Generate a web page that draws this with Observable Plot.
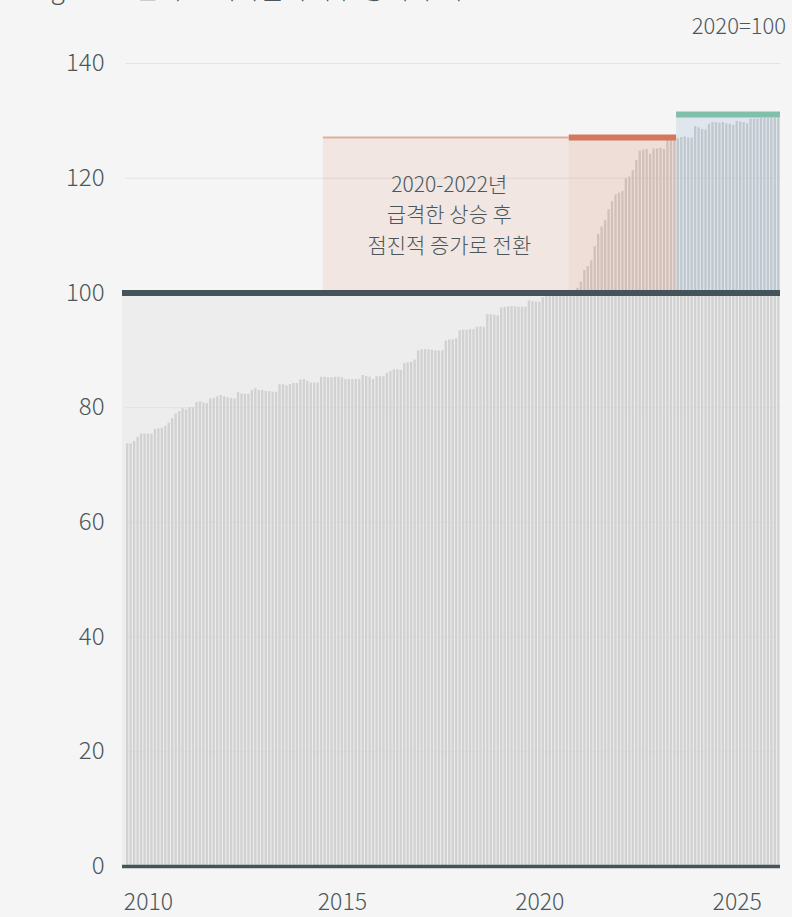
<!DOCTYPE html>
<html>
<head>
<meta charset="utf-8">
<script src="https://cdn.jsdelivr.net/npm/d3@7"></script>
<script src="https://cdn.jsdelivr.net/npm/@observablehq/plot@0.6"></script>
<style>
  html, body { margin: 0; padding: 0; background: #f5f5f5; }
  body { width: 792px; height: 917px; overflow: hidden; font-family: "Noto Sans CJK KR", "Noto Sans", sans-serif; color: #4b575b; }
  #header { position: relative; height: 44px; }
  #title { position: absolute; left: 30px; top: -25px; font-size: 26px; line-height: 26px; white-space: nowrap; font-weight: 300; }
  #unit { position: absolute; right: 6px; top: 11px; font-size: 22px; line-height: 26px; font-weight: 300; }
</style>
</head>
<body>
<div id="header">
  <div id="title">Figure 1. 한국 소비자물가지수 장기 추이</div>
  <div id="unit">2020=100</div>
</div>
<div id="chart"></div>
<script>
// Monthly index values, 2010-01 .. 2025-09 (2020=100)
const startMonth = "2010-01";
const values = [
  73.7, 73.7, 74.1, 74.8, 75.4, 75.4, 75.4, 75.4, 76.2, 76.3, 76.4, 76.7,
  77.3, 78.1, 78.9, 79.3, 79.8, 79.6, 80.0, 80.0, 80.9, 81.0, 80.8, 80.7,
  81.5, 81.6, 81.9, 82.1, 81.9, 81.7, 81.6, 81.5, 82.6, 82.4, 82.3, 82.3,
  83.0, 83.3, 83.0, 83.0, 82.8, 82.8, 82.7, 82.7, 84.0, 84.0, 83.8, 84.0,
  84.2, 84.2, 84.8, 84.9, 84.6, 84.3, 84.3, 84.3, 85.3, 85.3, 85.2, 85.2,
  85.3, 85.3, 85.2, 84.9, 84.9, 84.9, 84.9, 84.9, 85.6, 85.4, 85.3, 84.9,
  85.4, 85.4, 85.4, 86.0, 86.3, 86.6, 86.6, 86.5, 87.7, 87.8, 87.9, 88.3,
  89.9, 90.1, 90.1, 90.1, 90.0, 89.9, 89.9, 89.9, 91.6, 91.8, 91.8, 92.0,
  93.4, 93.5, 93.5, 93.6, 93.6, 94.0, 94.1, 94.0, 96.2, 96.2, 96.1, 96.0,
  97.4, 97.5, 97.6, 97.6, 97.6, 97.5, 97.5, 97.5, 98.6, 98.5, 98.4, 98.4,
  99.2, 99.4, 99.6, 99.6, 99.8, 99.9, 100.0, 100.2, 100.4, 100.4, 100.8, 101.9,
  103.9, 104.6, 105.6, 108.1, 110.2, 111.5, 112.6, 114.5, 115.9, 117.1, 117.4, 117.7,
  119.9, 120.2, 121.3, 123.1, 124.7, 124.9, 125.0, 124.2, 125.1, 125.1, 125.2, 125.0,
  126.6, 126.6, 126.6, 126.9, 127.1, 127.2, 127.0, 127.0, 129.0, 128.8, 128.5, 128.4,
  129.4, 129.7, 129.7, 129.6, 129.7, 129.5, 129.4, 129.2, 129.9, 129.8, 129.7, 129.5,
  130.3, 130.3, 130.3, 130.4, 130.4, 130.4, 130.4, 130.4, 130.4
];

// Highlighted periods
const zoneNames   = ["annotation", "surge", "recent"];
const zoneFrom    = ["2014-10", "2020-09", "2023-04"];
const zoneTo      = ["2020-08", "2023-03", "2025-09"];
const zoneTop     = [127.1, 127.1, 131.1];
const zoneFill    = ["#d4785c", "#d4785c", "#6f9bc4"];
const zoneOpacity = [0.12, 0.19, 0.16];
const zoneLine    = ["#e4ae9e", "#d4785c", "#80bfa9"];
const zoneLineW   = [2, 6, 6];

// Annotation text
const annotationLines = ["2020-2022년", "급격한 상승 후", "점진적 증가로 전환"];
const annotationValue = 114;

// Axis ticks
const yTicks = [0, 20, 40, 60, 80, 100, 120, 140];
const xTickMonths = ["2010-07", "2015-03", "2019-12", "2024-09"];
const xTickLabels = ["2010", "2015", "2020", "2025"];
const baseValue = 100;

// ---- build tables ----
const fmt = d3.utcFormat("%Y-%m");
const start = d3.utcParse("%Y-%m")(startMonth);
const months = values.map((_, i) => fmt(d3.utcMonth.offset(start, i)));
const data = values.map((v, i) => ({ i, month: months[i], value: v }));
const idx = m => months.indexOf(m);
const zones = zoneNames.map((name, k) => ({
  name, x1: idx(zoneFrom[k]), x2: idx(zoneTo[k]) + 1, top: zoneTop[k],
  fill: zoneFill[k], opacity: zoneOpacity[k], line: zoneLine[k], lw: zoneLineW[k]
}));
const xDomain = [-1, values.length];
const tickPos = xTickMonths.map(m => idx(m) + 0.5);
const tickLabel = new Map(tickPos.map((p, k) => [p, xTickLabels[k]]));
const ann = zones[0];

const textColor = "#4b575b";
const dark = "#45535a";

const chart = Plot.plot({
  width: 792,
  height: 873,
  marginTop: 19,
  marginBottom: 51,
  marginLeft: 122,
  marginRight: 12,
  style: { background: "transparent", fontFamily: "'Noto Sans CJK KR', 'Noto Sans', sans-serif", color: textColor, overflow: "visible" },
  x: { type: "linear", domain: xDomain, axis: null },
  y: { domain: [0, 140], axis: null },
  marks: [
    Plot.rect([baseValue], { x1: xDomain[0], x2: xDomain[1], y1: 0, y2: d => d, fill: "#ecedec" }),
    Plot.gridY(yTicks.filter(t => t > 0 && t !== baseValue), { stroke: "#dcdcdc", strokeOpacity: 0.7, strokeWidth: 1, x1: xDomain[0] + 1, x2: xDomain[1] }),
    Plot.rectY(data, { x1: "i", x2: d => d.i + 1, y: "value", fill: "#d0d1d0", insetLeft: 0.58, insetRight: 0.58 }),
    Plot.rect(zones, { x1: "x1", x2: "x2", y1: baseValue, y2: "top", fill: "fill", fillOpacity: "opacity" }),
    Plot.ruleY(zones, { y: "top", x1: "x1", x2: "x2", stroke: "line", strokeWidth: "lw" }),
    Plot.ruleY([baseValue], { stroke: dark, strokeWidth: 6 }),
    Plot.ruleY([0], { stroke: dark, strokeWidth: 3.5 }),
    Plot.text([annotationLines.join("\n")], {
      x: (ann.x1 + ann.x2) / 2, y: annotationValue, text: d => d, dx: 3,
      fontSize: 21, lineHeight: 1.45, fill: textColor, textAnchor: "middle", lineAnchor: "middle", fontWeight: 300
    }),
    Plot.axisY(yTicks, { tickSize: 0, tickPadding: 18, fontSize: 24, fill: textColor, label: null, fontWeight: 300 }),
    Plot.axisX(tickPos, { tickSize: 0, tickPadding: 27, fontSize: 23, fill: textColor, label: null, tickFormat: d => tickLabel.get(d), fontWeight: 300 })
  ]
});
document.getElementById("chart").appendChild(chart);
</script>
</body>
</html>
